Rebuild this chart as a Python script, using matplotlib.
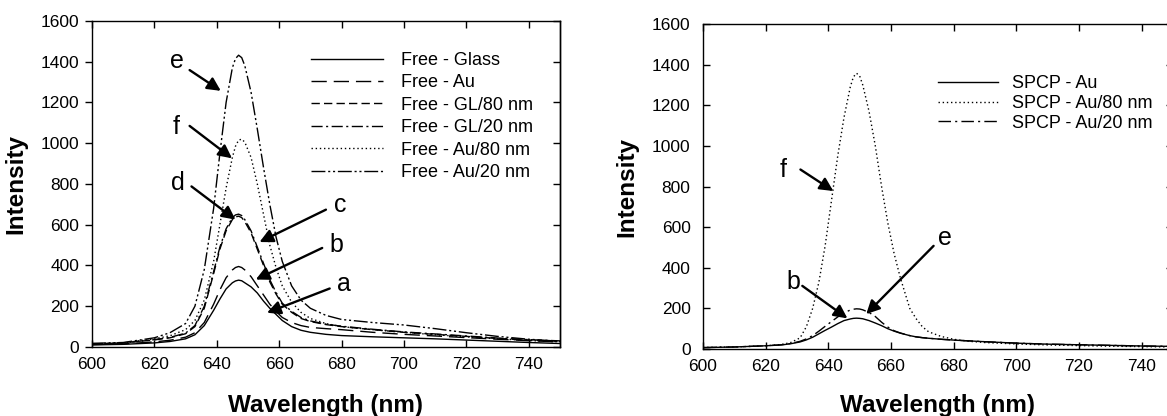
import matplotlib
matplotlib.use("Agg")
import matplotlib.pyplot as plt

plt.rcParams['font.family'] = ['Liberation Sans', 'DejaVu Sans']

# ---- left panel: free dye on different substrates ----
wl_left = [600, 610, 620, 625, 630, 633, 636, 639, 641, 643, 645, 646, 647, 648, 649,
           651, 653, 655, 657, 659, 661, 664, 667, 670, 675, 680, 690, 700, 710, 720,
           730, 740, 750]
free_glass = [10, 13, 20, 27, 40, 60, 105, 180, 235, 285, 315, 324, 328, 325, 315,
              295, 265, 225, 190, 160, 130, 100, 82, 72, 62, 56, 50, 45, 40, 34,
              28, 22, 17]
free_au = [12, 15, 25, 33, 48, 70, 120, 210, 280, 340, 378, 390, 395, 390, 378,
           345, 300, 255, 210, 175, 145, 120, 105, 96, 90, 85, 72, 62, 54, 46,
           38, 31, 25]
free_gl80 = [15, 20, 35, 45, 65, 100, 190, 360, 480, 570, 625, 638, 642, 635, 615,
             560, 480, 400, 320, 260, 210, 170, 140, 125, 110, 100, 85, 72, 62, 52,
             42, 34, 28]
free_gl20 = [15, 20, 36, 47, 68, 105, 200, 370, 490, 580, 635, 648, 652, 645, 625,
             570, 490, 410, 330, 268, 215, 175, 145, 128, 112, 102, 87, 74, 64, 54,
             44, 36, 30]
free_au80 = [15, 20, 40, 55, 85, 130, 230, 420, 600, 780, 930, 985, 1015, 1020, 1005,
             930, 800, 650, 500, 390, 300, 220, 170, 140, 115, 100, 85, 72, 60, 50,
             40, 32, 25]
free_au20 = [18, 22, 45, 70, 115, 200, 380, 680, 950, 1200, 1370, 1415, 1432, 1420, 1380,
             1250, 1070, 880, 700, 540, 420, 300, 230, 190, 155, 135, 120, 108, 90, 70,
             52, 38, 28]
left_labels = ['Free - Glass', 'Free - Au', 'Free - GL/80 nm', 'Free - GL/20 nm',
               'Free - Au/80 nm', 'Free - Au/20 nm']

# ---- right panel: SPCP ----
wl_right = [600, 610, 620, 625, 628, 631, 633, 635, 637, 639, 641, 643, 645, 647, 648,
            649, 650, 651, 653, 655, 657, 659, 661, 663, 666, 668, 670, 672, 676, 680,
            685, 690, 700, 710, 720, 730, 740, 750]
spcp_au = [7, 10, 16, 20, 26, 35, 45, 58, 75, 92, 108, 125, 140, 148, 151,
           152, 151, 149, 140, 128, 115, 100, 88, 78, 66, 60, 56, 53, 48, 44,
           40, 36, 29, 24, 21, 18, 15, 13]
spcp_au80 = [8, 10, 16, 22, 32, 55, 110, 200, 330, 510, 730, 950, 1140, 1290, 1340,
             1358, 1345, 1300, 1170, 1000, 800, 620, 470, 350, 200, 150, 110, 85, 62, 48,
             38, 32, 25, 20, 17, 14, 12, 10]
spcp_au20 = [7, 10, 16, 21, 27, 38, 50, 66, 88, 112, 135, 158, 178, 192, 196,
             198, 197, 193, 180, 160, 132, 108, 90, 79, 66, 60, 56, 53, 48, 44,
             40, 36, 29, 24, 21, 18, 15, 13]
right_labels = ['SPCP - Au', 'SPCP - Au/80 nm', 'SPCP - Au/20 nm']

fig = plt.figure(figsize=(11.67, 4.16), dpi=100)
ax1 = fig.add_axes([0.0788, 0.1659, 0.401, 0.7837])
ax2 = fig.add_axes([0.6024, 0.161, 0.4027, 0.781])

lw = 1.0
left_styles = ['-', (0, (11, 5)), (0, (6, 3)), (0, (8, 2.5, 1.5, 2.5)),
               (0, (1, 2)), (0, (10, 2, 1.5, 2, 1.5, 2))]
for ys, ls, lab in zip([free_glass, free_au, free_gl80, free_gl20, free_au80, free_au20],
                       left_styles, left_labels):
    ax1.plot(wl_left, ys, color='black', lw=lw, linestyle=ls, label=lab)

right_styles = ['-', (0, (1, 2)), (0, (9, 3, 1.5, 3))]
for ys, ls, lab in zip([spcp_au, spcp_au80, spcp_au20], right_styles, right_labels):
    ax2.plot(wl_right, ys, color='black', lw=lw, linestyle=ls, label=lab)

for ax in (ax1, ax2):
    ax.set_xlim(600, 750)
    ax.set_ylim(0, 1600)
    ax.set_xticks(range(600, 741, 20))
    ax.set_yticks(range(0, 1601, 200))
    for sp in ax.spines.values():
        sp.set_linewidth(1.0)
    ax.tick_params(axis='x', direction='in', top=True, length=5, width=1.0,
                   labelsize=12.5, pad=7)
    ax.set_xlabel('Wavelength (nm)', fontsize=17.5, fontweight='bold')
    ax.set_ylabel('Intensity', fontsize=17.5, fontweight='bold')

ax1.xaxis.set_label_coords(0.5, -0.144)
ax2.xaxis.set_label_coords(0.5, -0.138)
ax1.yaxis.set_label_coords(-0.137, 0.5)
ax2.yaxis.set_label_coords(-0.138, 0.5)

ax1.tick_params(axis='y', direction='out', length=5, width=1.0, labelsize=12.5, pad=4)
ax2.tick_params(axis='y', direction='in', length=5, width=1.0, labelsize=12.5, pad=9)
for ax in (ax1, ax2):
    sec = ax.secondary_yaxis('right')
    sec.set_yticks(range(0, 1601, 200))
    sec.tick_params(direction='in', length=5, width=1.0, labelright=False)
    sec.spines['right'].set_linewidth(1.0)

ax1.legend(loc='upper left', bbox_to_anchor=(0.468, 0.905), frameon=False,
           fontsize=13, handlelength=4.0, handletextpad=1.0, labelspacing=0.3,
           borderpad=0, borderaxespad=0)
ax2.legend(loc='upper left', bbox_to_anchor=(0.5, 0.843), frameon=False,
           fontsize=13, handlelength=3.3, handletextpad=0.8, labelspacing=0.15,
           borderpad=0, borderaxespad=0)

arrow = dict(arrowstyle='-|>', color='black', lw=1.7, mutation_scale=20,
             shrinkA=0, shrinkB=0)
# (letter, text pos, arrow tail, arrow tip)
left_notes = [('e', (627.2, 1403), (631.3, 1359), (641.3, 1257)),
              ('f', (626.9, 1081), (631.3, 1085), (644.9, 926)),
              ('d', (627.4, 807), (631.9, 788), (646.0, 625)),
              ('c', (679.7, 695), (675.0, 674), (653.7, 515)),
              ('b', (678.5, 502), (673.8, 486), (652.5, 331)),
              ('a', (680.9, 307), (676.2, 287), (656.1, 168))]
right_notes = [('f', (625.7, 884), (631.1, 884), (641.6, 778)),
               ('b', (628.7, 328), (631.7, 311), (646.1, 151)),
               ('e', (677.2, 549), (673.6, 508), (652.1, 172))]
for ax, notes in ((ax1, left_notes), (ax2, right_notes)):
    for letter, tpos, tail, tip in notes:
        ax.text(tpos[0], tpos[1], letter, fontsize=18, ha='center', va='center')
        ax.annotate('', xy=tip, xytext=tail, arrowprops=arrow)

fig.savefig('out.png', dpi=100)
